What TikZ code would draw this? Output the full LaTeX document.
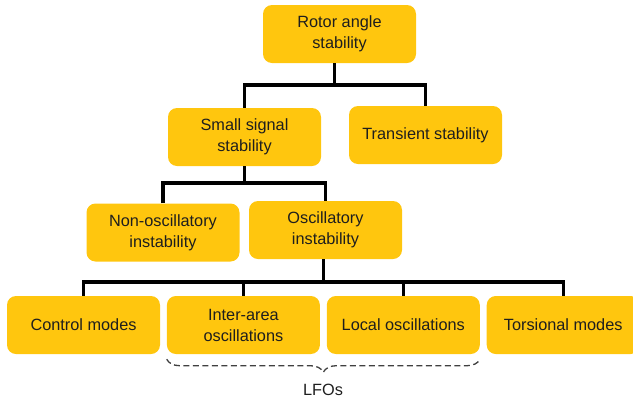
\documentclass[tikz,border=0pt]{standalone}
\usepackage{fontspec}
\setmainfont{Liberation Sans}
\usepackage{xcolor}
\usepackage{tikz}
\usetikzlibrary{positioning,decorations.pathreplacing,calc}

\definecolor{gold}{HTML}{FFC60E}
\definecolor{ink}{HTML}{1E1E1E}

\begin{document}
\begin{tikzpicture}[
    x=1pt, y=-1pt,
    block/.style={rectangle, rounded corners=9pt, fill=gold, text=ink, minimum width=153pt, minimum height=58pt, inner sep=0pt, align=center, font=\fontsize{16.3}{21}\selectfont},
    link/.style={draw=black, line width=3.2pt},
    lfo_brace/.style={draw=ink!85, line width=1.3pt, dash pattern=on 6pt off 3.5pt, decorate, decoration={brace, mirror, amplitude=13pt}}
]
\useasboundingbox (0,0) rectangle (633,400);

\node[block] (rotor) at (339.5,34) {Rotor angle\\stability};

\node[block] (small) at (244.5,137) {Small signal\\stability};
\node[block] (transient) at (425.5,135) {Transient stability};

\node[block] (nonosc) at (163,232.5) {Non-oscillatory\\instability};
\node[block] (osc) at (325.5,230) {Oscillatory\\instability};

\node[block] (control) at (83.5,325) {Control modes};
\node[block, right=6.5pt of control] (inter) {Inter-area\\oscillations};
\node[block, right=6.5pt of inter] (local) {Local oscillations};
\node[block, right=6.5pt of local] (torsional) {Torsional modes};

\coordinate (busA) at (0,85);
\coordinate (busB) at (0,183);
\coordinate (busC) at (0,282);

\draw[link] ([xshift=-5pt]rotor.south) -- ([xshift=-5pt]rotor.south |- busA);
\draw[link] (small.north) |- (busA -| transient.north) -- (transient.north);

\draw[link] (small.south) -- (small.south |- busB);
\draw[link] (nonosc.north) |- (busB -| osc.north) -- (osc.north);

\draw[link] ([xshift=-2pt]osc.south) -- ([xshift=-2pt]osc.south |- busC);
\draw[link] (control.north) |- (busC -| torsional.north) -- (torsional.north);
\draw[link] (inter.north) -- (inter.north |- busC);
\draw[link] (local.north) -- (local.north |- busC);

\draw[lfo_brace] ([yshift=-5pt]inter.south west) -- ([yshift=-5pt]local.south east);
\node[font=\fontsize{16.3}{21}\selectfont, text=ink] (lfo) at (323,390) {LFOs};

\end{tikzpicture}
\end{document}
